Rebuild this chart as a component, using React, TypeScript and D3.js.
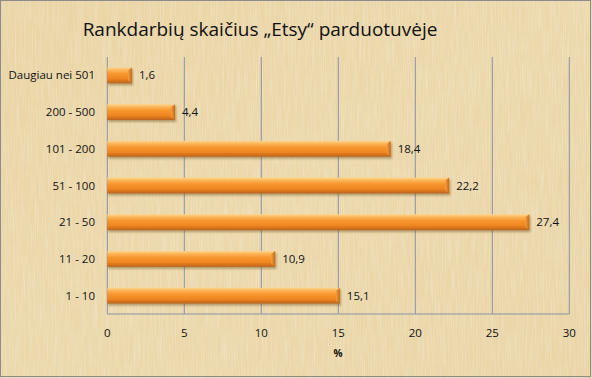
import React from "react";
import * as d3 from "d3";

const categories = ["Daugiau nei 501", "200 - 500", "101 - 200", "51 - 100", "21 - 50", "11 - 20", "1 - 10"];
const values = [1.6, 4.4, 18.4, 22.2, 27.4, 10.9, 15.1];
const valueLabels = ["1,6", "4,4", "18,4", "22,2", "27,4", "10,9", "15,1"];
const ticks = [0, 5, 10, 15, 20, 25, 30];

const W = 592, H = 378;
const left = 107.3, right = 569.3, top = 57, bottom = 314;
const font = "'Open Sans', 'Liberation Sans', sans-serif";

export default function App() {
  const x = d3.scaleLinear().domain([0, 30]).range([left, right]);
  const y = d3.scaleBand<string>().domain(categories).range([top, bottom]).paddingInner(0.57).paddingOuter(0.285);
  const bh = y.bandwidth();
  return (
    <svg width={W} height={H} style={{ position: "absolute", left: 0, top: 0 }}>
      <defs>
        <linearGradient id="bg" x1="0" y1="0" x2="1" y2="1">
          <stop offset="0" stopColor="#e8d09d" />
          <stop offset="0.5" stopColor="#ecd8ab" />
          <stop offset="1" stopColor="#e7d1a2" />
        </linearGradient>
        <filter id="tex" x="0" y="0" width="100%" height="100%">
          <feTurbulence type="fractalNoise" baseFrequency="0.9 0.03" numOctaves="2" seed="3" result="n" />
          <feColorMatrix in="n" type="matrix" values="0 0 0 0 1  0 0 0 0 0.97  0 0 0 0 0.88  0 0 0 0.9 -0.35" result="c" />
          <feComposite in="c" in2="SourceGraphic" operator="atop" />
        </filter>
        <filter id="tex2" x="0" y="0" width="100%" height="100%">
          <feTurbulence type="fractalNoise" baseFrequency="0.02 0.8" numOctaves="2" seed="7" result="n" />
          <feColorMatrix in="n" type="matrix" values="0 0 0 0 0.75  0 0 0 0 0.62  0 0 0 0 0.35  0 0 0 0.7 -0.3" />
        </filter>
        <linearGradient id="bar" x1="0" y1="0" x2="0" y2="1">
          <stop offset="0" stopColor="#ffd58c" />
          <stop offset="0.18" stopColor="#fcb457" />
          <stop offset="0.4" stopColor="#f7972e" />
          <stop offset="0.75" stopColor="#ee8420" />
          <stop offset="1" stopColor="#b9621a" />
        </linearGradient>
        <linearGradient id="barEnd" x1="0" y1="0" x2="1" y2="0">
          <stop offset="0" stopColor="#f4a040" />
          <stop offset="1" stopColor="#c46818" />
        </linearGradient>
        <filter id="sh" x="-5%" y="-30%" width="115%" height="180%">
          <feDropShadow dx="1" dy="2" stdDeviation="1.2" floodColor="#6b4a1a" floodOpacity="0.45" />
        </filter>
      </defs>
      <rect x={0} y={0} width={W} height={H} fill="url(#bg)" />
      <rect x={0} y={0} width={W} height={H} fill="#ecd8ab" filter="url(#tex)" opacity={0.6} />
      <rect x={0} y={0} width={W} height={H} filter="url(#tex2)" opacity={0.35} />
      <rect x={0.5} y={0.5} width={W - 2} height={H - 2} fill="none" stroke="#8c8c8c" strokeWidth={1} />

      <text x={260} y={36} textAnchor="middle" fontFamily={font} fontSize={19} fill="#111">
        Rankdarbių skaičius „Etsy“ parduotuvėje
      </text>

      {ticks.map((t) => (
        <line key={t} x1={x(t)} x2={x(t)} y1={top} y2={bottom} stroke="#8a93a4" strokeWidth={1} />
      ))}
      <line x1={left} x2={right} y1={bottom} y2={bottom} stroke="#8a93a4" strokeWidth={1} />

      {categories.map((c, i) => {
        const y0 = y(c)!;
        const x1 = x(values[i]);
        const bev = 4;
        return (
          <g key={c}>
            <g filter="url(#sh)">
              <rect x={left} y={y0} width={x1 - left} height={bh} fill="url(#bar)" />
              <path d={`M${x1 - bev},${y0 + 3} L${x1},${y0} L${x1},${y0 + bh} L${x1 - bev},${y0 + bh - 3} Z`} fill="url(#barEnd)" />
              <line x1={left} x2={x1 - bev} y1={y0 + bh - 3} y2={y0 + bh - 3} stroke="#d9771d" strokeWidth={0.8} />
            </g>
            <text x={x1 + 7} y={y0 + bh / 2 + 4} fontFamily={font} fontSize={11.5} fill="#111">
              {valueLabels[i]}
            </text>
            <text x={95} y={y0 + bh / 2 + 4} textAnchor="end" fontFamily={font} fontSize={11.5} fill="#111">
              {c}
            </text>
          </g>
        );
      })}

      {ticks.map((t) => (
        <text key={t} x={x(t)} y={337} textAnchor="middle" fontFamily={font} fontSize={11.5} fill="#111">
          {t}
        </text>
      ))}
      <text x={338} y={357} textAnchor="middle" fontFamily={font} fontSize={10} fontWeight="bold" fill="#111">
        %
      </text>
    </svg>
  );
}
